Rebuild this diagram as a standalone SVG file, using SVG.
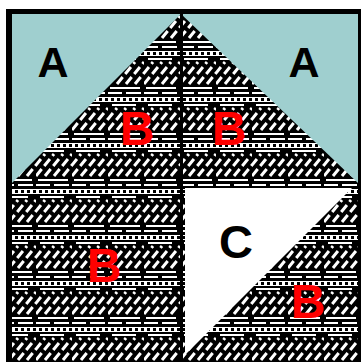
<svg xmlns="http://www.w3.org/2000/svg" width="361" height="362" viewBox="0 0 361 362">
<style>
.lbl{font-family:"Liberation Sans",Arial,sans-serif;font-weight:bold;text-anchor:middle}
.blk{fill:#000}
.red{fill:#ff0000}
</style>
<defs>
<pattern id="tex" width="36" height="46" patternUnits="userSpaceOnUse">
<rect width="36" height="46" fill="#000"/>
<rect x="0" y="0" width="14" height="2" fill="#fff"/>
<rect x="18" y="0" width="15" height="2" fill="#fff"/>
<rect x="0" y="5" width="36" height="5" fill="#fff"/>
<g fill="#000">
<rect x="3" y="6" width="3" height="3"/><rect x="9" y="6" width="3" height="3"/><rect x="15" y="6" width="3" height="3"/><rect x="21" y="6" width="3" height="3"/><rect x="27" y="6" width="3" height="3"/><rect x="33" y="6" width="3" height="3"/>
</g>
<rect x="4" y="12" width="24" height="2" fill="#fff"/>
<path d="M-9 38L9 16M0 38L18 16M9 38L27 16M18 38L36 16M27 38L45 16" stroke="#fff" stroke-width="3" stroke-dasharray="9 4"/>
<rect x="2" y="41" width="30" height="2" fill="#fff"/>
</pattern>
</defs>
<g id="frame">
<rect x="6" y="9" width="355" height="353" fill="#000"/>
</g>
<g id="top-half">
<rect x="12" y="14" width="346" height="169" fill="#9fcfcf"/>
<polygon points="181,14 358,183 12,183" fill="url(#tex)"/>
</g>
<g id="bottom-left">
<rect x="12" y="183" width="169" height="179" fill="url(#tex)"/>
</g>
<g id="bottom-right">
<rect x="183" y="183" width="175" height="179" fill="url(#tex)"/>
<polygon points="185,188 352,188 185,355" fill="#fff"/>
</g>
<rect x="180" y="14" width="3" height="348" fill="#000"/>
<g id="labels">
<text class="lbl blk" x="53" y="77" font-size="43">A</text>
<text class="lbl blk" x="304" y="77" font-size="43">A</text>
<text class="lbl red" x="137" y="145" font-size="48">B</text>
<text class="lbl red" x="229" y="145" font-size="48">B</text>
<text class="lbl red" x="104" y="282" font-size="48">B</text>
<text class="lbl red" x="308" y="318" font-size="48">B</text>
<text class="lbl blk" x="236" y="258" font-size="47">C</text>
</g>
</svg>
